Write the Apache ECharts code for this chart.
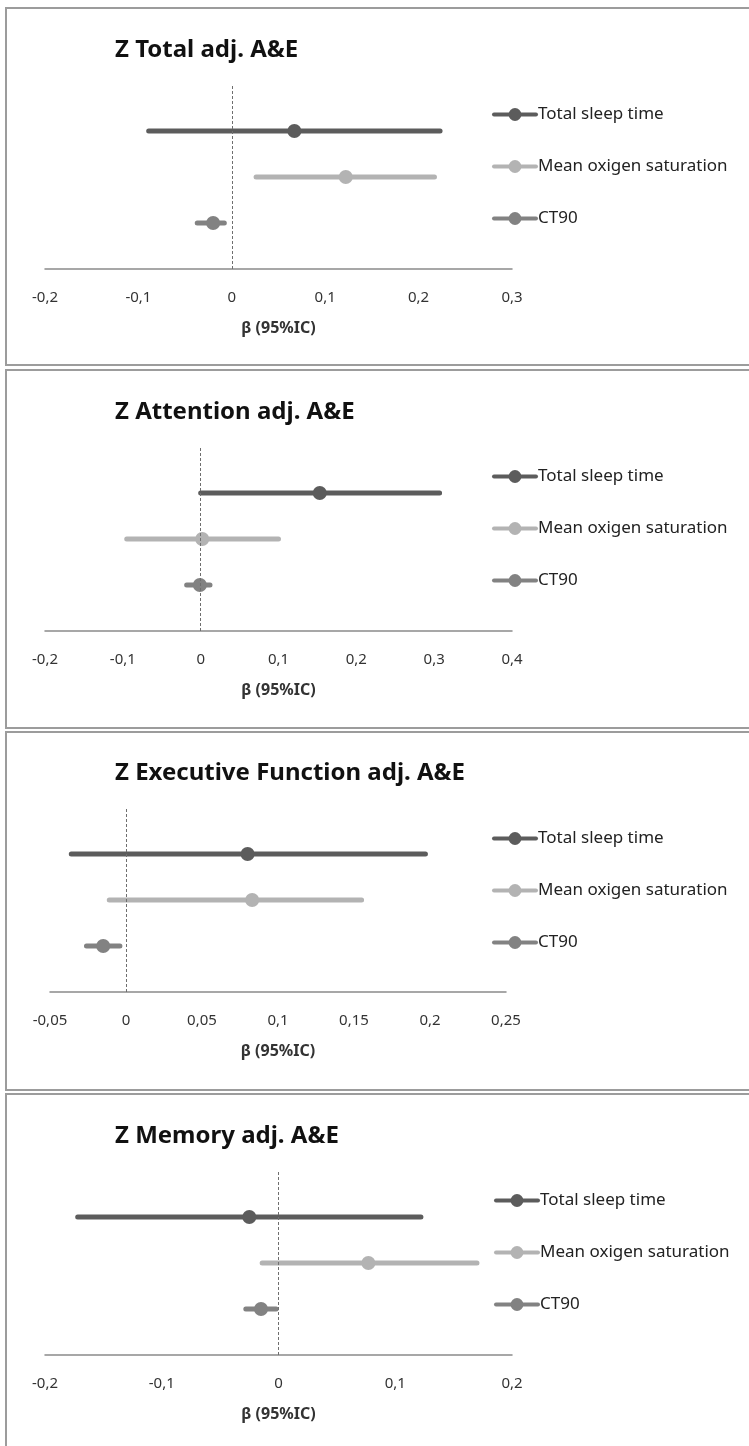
<!DOCTYPE html>
<html>
<head>
<meta charset="utf-8">
<script src="https://cdn.jsdelivr.net/npm/echarts@6/dist/echarts.min.js"></script>
<style>
html,body{margin:0;padding:0;background:#fff;}
#c{width:749px;height:1446px;}
</style>
</head>
<body>
<div id="c"></div>
<script>
// ---- data ----
const variables = ['Total sleep time', 'Mean oxigen saturation', 'CT90'];
const rowY = [3, 2, 1];
const panelTitles = ['Z Total adj. A&E', 'Z Attention adj. A&E', 'Z Executive Function adj. A&E', 'Z Memory adj. A&E'];
const axisName = 'β (95%IC)';

const totalEst = [0.067, 0.122, -0.020];
const totalLo  = [-0.089, 0.026, -0.037];
const totalHi  = [0.223, 0.217, -0.008];

const attentionEst = [0.153, 0.002, -0.001];
const attentionLo  = [0.000, -0.095, -0.018];
const attentionHi  = [0.307, 0.100, 0.012];

const executiveEst = [0.080, 0.083, -0.015];
const executiveLo  = [-0.036, -0.011, -0.026];
const executiveHi  = [0.197, 0.155, -0.004];

const memoryEst = [-0.025, 0.077, -0.015];
const memoryLo  = [-0.172, -0.014, -0.028];
const memoryHi  = [0.122, 0.170, -0.002];

const xMins = [-0.2, -0.2, -0.05, -0.2];
const xMaxs = [0.3, 0.4, 0.25, 0.2];
const xSteps = [0.1, 0.1, 0.05, 0.1];

const panelData = [
  [totalEst, totalLo, totalHi],
  [attentionEst, attentionLo, attentionHi],
  [executiveEst, executiveLo, executiveHi],
  [memoryEst, memoryLo, memoryHi]
];

// ---- layout / style ----
const colors = ['#5c5c5c', '#b3b3b3', '#828282'];
const panelBoxes = [[6, 8, 760, 357], [6, 370, 760, 358], [6, 732, 760, 358], [6, 1094, 760, 360]];
const gridTops = [85, 447, 808, 1171];
const gridLefts = [45, 45, 50, 45];
const gridWidths = [467, 467, 456, 467];
const gridHeight = 184;
const titleTops = [33, 395, 756, 1119];
const legendTops = [101, 463, 825, 1187];
const legendLefts = [487, 487, 487, 489];
const FONT = "'Noto Sans', sans-serif";

const fmt = v => {
  const r = Math.round(v * 1000) / 1000;
  return String(r).replace('.', ',');
};

const option = {
  animation: false,
  backgroundColor: '#ffffff',
  textStyle: { fontFamily: FONT },
  title: [], legend: [], grid: [], xAxis: [], yAxis: [], series: [],
  graphic: panelBoxes.map(b => ({
    type: 'rect', silent: true, z: -1,
    shape: { x: b[0], y: b[1], width: b[2], height: b[3] },
    style: { fill: 'none', stroke: '#9c9c9c', lineWidth: 2 }
  }))
};

panelData.forEach((pd, p) => {
  option.title.push({
    text: panelTitles[p], left: 110, top: titleTops[p],
    textStyle: { fontFamily: FONT, fontSize: 24, fontWeight: 'bold', color: '#111' }
  });
  option.legend.push({
    data: variables, orient: 'vertical', left: legendLefts[p], top: legendTops[p],
    itemGap: 35, itemWidth: 42, itemHeight: 16,
    lineStyle: { width: 4 },
    textStyle: { fontFamily: FONT, fontSize: 17, lineHeight: 17, color: '#222', padding: [0, 0, 0, -3] },
    selectedMode: false
  });
  option.grid.push({ left: gridLefts[p], top: gridTops[p], width: gridWidths[p], height: gridHeight });
  option.xAxis.push({
    type: 'value', gridIndex: p, min: xMins[p], max: xMaxs[p], interval: xSteps[p],
    name: axisName, nameLocation: 'middle', nameGap: 51,
    nameTextStyle: { fontFamily: FONT, fontSize: 16, fontWeight: 'bold', color: '#333' },
    axisLine: { show: true, onZero: false, lineStyle: { color: '#8a8a8a', width: 1.5 } },
    axisTick: { show: false },
    splitLine: { show: false },
    axisLabel: { margin: 21, fontFamily: FONT, fontSize: 15, color: '#333', formatter: fmt }
  });
  option.yAxis.push({ type: 'value', gridIndex: p, min: 0, max: 4, show: false });
  const [est, lo, hi] = pd;
  variables.forEach((v, i) => {
    const s = {
      type: 'line', name: v, xAxisIndex: p, yAxisIndex: p,
      symbol: 'circle', symbolSize: 14, showSymbol: true,
      color: colors[i],
      lineStyle: { width: 5, color: colors[i], cap: 'round' },
      itemStyle: { color: colors[i] },
      data: [
        { value: [lo[i], rowY[i]], symbol: 'none' },
        { value: [est[i], rowY[i]] },
        { value: [hi[i], rowY[i]], symbol: 'none' }
      ],
      z: 3
    };
    if (i === 0) {
      s.markLine = {
        silent: true, symbol: 'none', label: { show: false },
        lineStyle: { type: [3, 2], color: '#6e6e6e', width: 1 },
        data: [{ xAxis: 0 }]
      };
    }
    option.series.push(s);
  });
});

const chart = echarts.init(document.getElementById('c'), null, { renderer: 'canvas' });
chart.setOption(option);
</script>
</body>
</html>
